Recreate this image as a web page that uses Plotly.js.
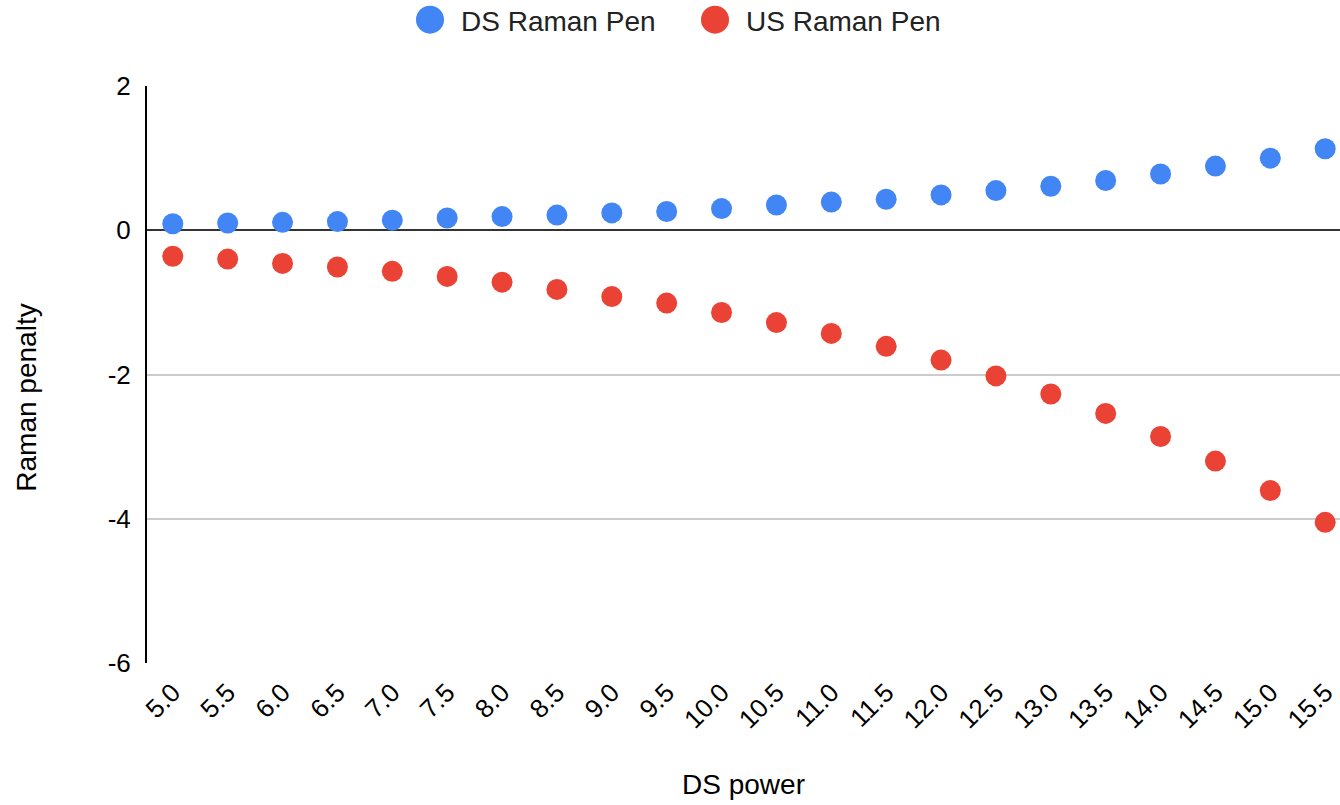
<!DOCTYPE html>
<html>
<head>
<meta charset="utf-8">
<script src="https://cdn.plot.ly/plotly-3.0.1.min.js"></script>
<style>html,body{margin:0;padding:0;background:#fff;}#chart{width:1340px;height:805px;}</style>
</head>
<body>
<div id="chart"></div>
<script>
const dsPower = ["5.0","5.5","6.0","6.5","7.0","7.5","8.0","8.5","9.0","9.5","10.0","10.5","11.0","11.5","12.0","12.5","13.0","13.5","14.0","14.5","15.0","15.5"];
const dsRamanPen = [0.09,0.10,0.11,0.12,0.14,0.17,0.19,0.21,0.24,0.26,0.30,0.35,0.39,0.43,0.49,0.55,0.61,0.69,0.78,0.89,1.00,1.13];
const usRamanPen = [-0.36,-0.40,-0.46,-0.51,-0.57,-0.64,-0.72,-0.82,-0.92,-1.01,-1.14,-1.28,-1.43,-1.61,-1.80,-2.02,-2.27,-2.54,-2.86,-3.20,-3.61,-4.05];
const yTicks = [-6,-4,-2,0,2];

const font = 'Arial, "Liberation Sans", sans-serif';
const traces = [
  {x: dsPower, y: dsRamanPen, name: 'DS Raman Pen', type: 'scatter', mode: 'markers',
   marker: {color: '#4285f4', size: 21}},
  {x: dsPower, y: usRamanPen, name: 'US Raman Pen', type: 'scatter', mode: 'markers',
   marker: {color: '#ea4335', size: 21}}
];
const layout = {
  width: 1340, height: 805,
  margin: {l: 147, r: 0, t: 86, b: 142},
  paper_bgcolor: '#fff', plot_bgcolor: '#fff',
  font: {family: font, color: '#000', size: 20},
  showlegend: true,
  legend: {orientation: 'h', x: 421/1340, xref: 'container', xanchor: 'left', y: 1.0, yref: 'container', yanchor: 'top',
           font: {size: 28, color: '#222'}, itemwidth: 30, entrywidth: 240, entrywidthmode: 'pixels'},
  xaxis: {type: 'category', range: [-0.47, 21.27], tickangle: -45, showgrid: false,
          showline: false, zeroline: false, tickfont: {size: 26}, ticks: '', ticklabelstandoff: 8, ticklabelshift: 0,
          title: {text: 'DS power', font: {size: 28}, standoff: 41}},
  yaxis: {range: [-6, 2], tickvals: yTicks, ticktext: yTicks.map(String), showgrid: true, gridcolor: '#cccccc', gridwidth: 2,
          zeroline: true, zerolinecolor: '#333', zerolinewidth: 2, showline: true, linecolor: '#000', linewidth: 2,
          tickfont: {size: 26}, ticks: '', ticklabelstandoff: 9,
          title: {text: 'Raman penalty', font: {size: 28}, standoff: 58}}
};
Plotly.newPlot('chart', traces, layout, {displayModeBar: false, staticPlot: true}).then(function (gd) {
  const leg = gd.querySelector('.legend');
  if (leg) {
    const m = /translate\(\s*([-\d.]+)[ ,]+([-\d.]+)\s*\)/.exec(leg.getAttribute('transform') || '');
    if (m) leg.setAttribute('transform', 'translate(' + m[1] + ',' + (parseFloat(m[2]) - 5) + ')');
  }
  gd.querySelectorAll('.legend [clip-path]').forEach(function (el) { el.removeAttribute('clip-path'); });
  gd.querySelectorAll('.legend .legendpoints path.scatterpts').forEach(function (p) {
    p.setAttribute('transform', 'translate(9,0) scale(1.75)');
  });
  const yt = gd.querySelector('.ytitle');
  if (yt) yt.setAttribute('transform', 'translate(-5,23) ' + (yt.getAttribute('transform') || ''));
});
</script>
</body>
</html>
